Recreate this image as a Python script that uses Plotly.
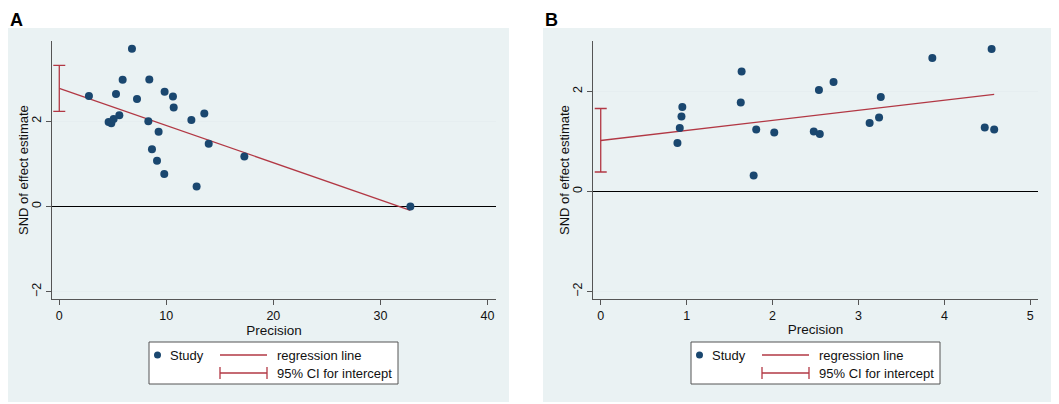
import plotly.graph_objects as go
from plotly.subplots import make_subplots
import numpy as np

# panel A: Egger test data
prec_a = [2.77, 6.79, 5.30, 5.92, 7.26, 8.41, 9.84, 10.62, 10.69, 13.55, 12.34, 5.61,
          4.61, 4.86, 5.08, 8.32, 9.28, 8.66, 9.13, 9.81, 12.83, 13.96, 17.29, 32.80]
snd_a = [2.59, 3.70, 2.64, 2.97, 2.52, 2.98, 2.69, 2.58, 2.32, 2.18, 2.03, 2.14,
         1.98, 1.95, 2.05, 2.00, 1.75, 1.34, 1.07, 0.76, 0.47, 1.47, 1.17, 0.00]
intercept_a = 2.77
slope_a = -0.0872
ci_a = [2.23, 3.31]

# panel B
prec_b = [0.893, 0.92, 0.94, 0.95, 1.64, 1.63, 1.81, 1.78, 2.02, 2.48, 2.55, 2.54,
          2.71, 3.13, 3.24, 3.26, 3.86, 4.47, 4.55, 4.58]
snd_b = [0.97, 1.27, 1.50, 1.69, 2.40, 1.78, 1.24, 0.32, 1.18, 1.20, 1.15, 2.03,
         2.19, 1.37, 1.48, 1.89, 2.67, 1.28, 2.85, 1.24]
intercept_b = 1.02
slope_b = 0.201
ci_b = [0.39, 1.66]

# the page body has an 8px margin, so the figure is 8px smaller than the window
PAD = 8
W, H = 1059 - PAD, 404 - PAD
NAVY = '#1a476f'
RED = '#b23844'
BG = '#eaf2f3'
AX = '#555555'
FONT = 'Liberation Sans, Arial, sans-serif'


def px(x):
    return (x - PAD) / W


def py(y):
    return 1 - (y - PAD) / H


fig = make_subplots(rows=1, cols=2)

panels = [
    (prec_a, snd_a, intercept_a, slope_a, ci_a, 1),
    (prec_b, snd_b, intercept_b, slope_b, ci_b, 2),
]
for prec, snd, b0, b1, ci, col in panels:
    xs = np.array([0, max(prec)])
    fig.add_trace(go.Scatter(
        x=xs, y=b0 + b1 * xs, mode='lines',
        line=dict(color=RED, width=1.3), showlegend=False, hoverinfo='skip'),
        row=1, col=col)
    fig.add_trace(go.Scatter(
        x=[0], y=[b0], mode='markers', marker=dict(size=1, opacity=0),
        error_y=dict(type='data', symmetric=False,
                     array=[ci[1] - b0], arrayminus=[b0 - ci[0]],
                     color=RED, thickness=1.3, width=6),
        showlegend=False, hoverinfo='skip'),
        row=1, col=col)
    fig.add_trace(go.Scatter(
        x=prec, y=snd, mode='markers', name='Study',
        marker=dict(color=NAVY, size=8), showlegend=False),
        row=1, col=col)

# plot areas (window pixels): A x 52-496, B x 593-1038, y 41-299
fig.update_layout(
    xaxis=dict(domain=[px(52), px(496)], range=[-0.68, 40.8]),
    xaxis2=dict(domain=[px(593), px(1038)], range=[-0.09, 5.09]),
    yaxis=dict(domain=[py(299), py(41)], range=[-2.17, 3.88]),
    yaxis2=dict(domain=[py(299), py(41)], range=[-2.15, 3.01]),
)
fig.update_xaxes(tickvals=[0, 10, 20, 30, 40], row=1, col=1)
fig.update_xaxes(tickvals=[0, 1, 2, 3, 4, 5], row=1, col=2)
fig.update_xaxes(
    automargin=False,
    showgrid=False, zeroline=False, showline=True, linecolor=AX, linewidth=1,
    ticks='outside', ticklen=5, tickcolor=AX,
    tickfont=dict(size=12.5, color='#111111', family=FONT),
    title=dict(text='Precision', font=dict(size=13.5, color='#111111', family=FONT),
               standoff=2))
fig.update_yaxes(
    automargin=False,
    tickvals=[-2, 0, 2], tickangle=-90, showgrid=True, gridcolor='#e6eef0',
    zeroline=True, zerolinecolor='#000000', zerolinewidth=1.3,
    showline=True, linecolor=AX, linewidth=1,
    ticks='outside', ticklen=5, tickcolor=AX,
    tickfont=dict(size=12.5, color='#111111', family=FONT))

shapes = []
annotations = []
# light blue panel backgrounds
for x0, x1 in [(1, 509), (543, 1052)]:
    shapes.append(dict(type='rect', xref='paper', yref='paper', layer='below',
                       x0=px(x0), x1=px(x1), y0=py(402), y1=py(28),
                       fillcolor=BG, line=dict(width=0)))

# panel letters, y titles and hand-built legends
for off, letter, lx, ytx in [(0, 'A', PAD, 23), (542, 'B', 543, 564)]:
    annotations.append(dict(text='<b>%s</b>' % letter, xref='paper', yref='paper',
                            x=px(lx), y=1, xanchor='left', yanchor='top',
                            showarrow=False, font=dict(size=18, color='#000000', family=FONT)))
    annotations.append(dict(text='SND of effect estimate', xref='paper', yref='paper',
                            x=px(ytx), y=py(170),
                            xanchor='center', yanchor='middle', textangle=-90,
                            showarrow=False,
                            font=dict(size=13, color='#111111', family=FONT)))
    shapes.append(dict(type='rect', xref='paper', yref='paper',
                       x0=px(149 + off), x1=px(398 + off), y0=py(384), y1=py(342),
                       fillcolor='white', line=dict(color=AX, width=1)))
    shapes.append(dict(type='circle', xref='paper', yref='paper',
                       x0=px(154 + off), x1=px(161 + off), y0=py(358.5), y1=py(351.5),
                       fillcolor=NAVY, line=dict(width=0)))
    shapes.append(dict(type='line', xref='paper', yref='paper',
                       x0=px(220 + off), x1=px(267 + off), y0=py(355), y1=py(355),
                       line=dict(color=RED, width=1.3)))
    shapes.append(dict(type='line', xref='paper', yref='paper',
                       x0=px(220 + off), x1=px(267 + off), y0=py(373), y1=py(373),
                       line=dict(color=RED, width=1.3)))
    for cx in (220, 267):
        shapes.append(dict(type='line', xref='paper', yref='paper',
                           x0=px(cx + off), x1=px(cx + off), y0=py(367), y1=py(379),
                           line=dict(color=RED, width=1.3)))
    for txt, tx, ty in [('Study', 168, 355), ('regression line', 275, 355),
                        ('95% CI for intercept', 275, 373)]:
        annotations.append(dict(text=txt, xref='paper', yref='paper',
                                x=px(tx + off), y=py(ty), xanchor='left', yanchor='middle',
                                showarrow=False,
                                font=dict(size=13, color='#111111', family=FONT)))

fig.update_layout(
    width=W, height=H, margin=dict(l=0, r=0, t=0, b=0),
    paper_bgcolor='white', plot_bgcolor='white',
    showlegend=False, shapes=shapes, annotations=annotations,
    font=dict(family=FONT),
)

fig.write_html("out.html")
